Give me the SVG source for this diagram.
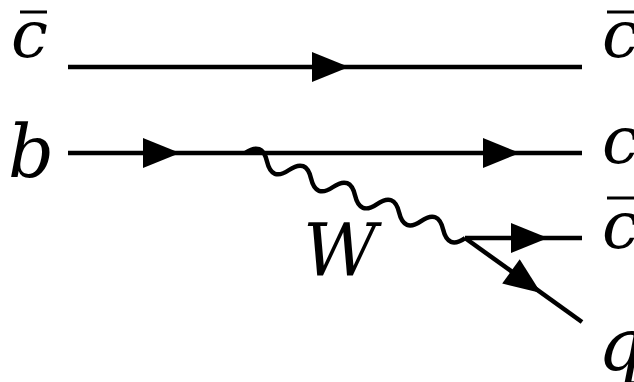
<svg xmlns="http://www.w3.org/2000/svg" width="634" height="382" viewBox="0 0 634 382">
<style>
.ln{stroke:#000;stroke-width:4.5;fill:none;stroke-linecap:butt}
.bar{stroke:#000;stroke-width:3}
.s{font-size:66px;font-style:italic;fill:#000}
.b{font-size:72px;font-style:italic;fill:#000}
</style>
<defs>
<path id="ah" d="M-37,-15 L0,0 L-37,15 Z" fill="#000"/>
</defs>
<rect width="634" height="382" fill="#fff"/>
<g id="connectors">
<line class="ln" x1="68" y1="67" x2="582" y2="67"/>
<use href="#ah" transform="translate(349,67)"/>
<line class="ln" x1="68" y1="153" x2="582" y2="153"/>
<use href="#ah" transform="translate(180,153)"/>
<use href="#ah" transform="translate(520,153)"/>
<g transform="translate(245,153) rotate(21.12)">
<path class="ln" d="M0,0 c7.9,-11.5 15.7,-11.5 23.6,0 s15.7,11.5 23.6,0 s15.7,-11.5 23.6,0 s15.7,11.5 23.6,0 s15.7,-11.5 23.6,0 s15.7,11.5 23.6,0 s15.7,-11.5 23.6,0 s15.7,11.5 23.6,0 s15.7,-11.5 23.6,0 s15.7,11.5 23.6,0"/>
</g>
<line class="ln" x1="465" y1="238" x2="582" y2="238"/>
<use href="#ah" transform="translate(548,238)"/>
<line class="ln" x1="465" y1="238" x2="582" y2="322"/>
<use href="#ah" transform="translate(541,293) rotate(35.7)"/>
</g>
<g id="in-cbar"><line class="bar" x1="20" y1="12" x2="47" y2="12"/><text class="s" font-family="DejaVu Serif" x="11" y="57">c</text></g>
<g id="in-b"><text class="b" font-family="DejaVu Serif" x="8" y="177">b</text></g>
<g id="W"><text class="b" font-family="DejaVu Serif" x="303" y="276">W</text></g>
<g id="out-cbar1"><line class="bar" x1="607" y1="12" x2="634" y2="12"/><text class="s" font-family="DejaVu Serif" x="602" y="57">c</text></g>
<g id="out-c"><text class="s" font-family="DejaVu Serif" x="602" y="163">c</text></g>
<g id="out-cbar2"><line class="bar" x1="607" y1="198" x2="634" y2="198"/><text class="s" font-family="DejaVu Serif" x="602" y="248">c</text></g>
<g id="out-q"><text class="b" font-family="DejaVu Serif" x="598" y="370">q</text></g>
</svg>
